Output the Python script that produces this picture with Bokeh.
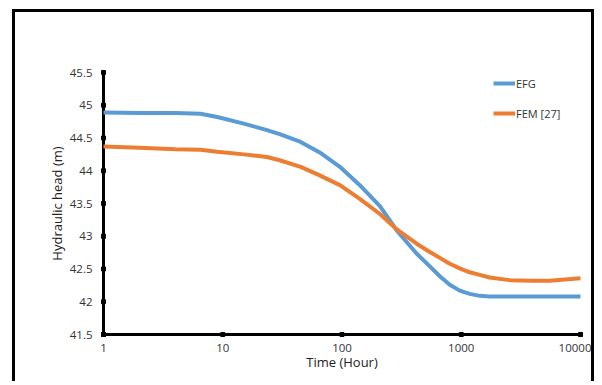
from bokeh.plotting import figure
from bokeh.models import FixedTicker, Legend, LegendItem
from bokeh.embed import file_html
from bokeh.resources import INLINE

time_hours = [1, 2, 4, 6.5, 9, 15, 23.5, 30, 45, 65, 96, 141, 208, 290, 420, 545, 661, 801, 971, 1178, 1428, 1730, 2545, 4000, 5500, 10000]
efg_head = [44.89, 44.88, 44.88, 44.87, 44.82, 44.72, 44.62, 44.56, 44.44, 44.28, 44.06, 43.78, 43.46, 43.08, 42.74, 42.54, 42.39, 42.26, 42.17, 42.12, 42.09, 42.08, 42.08, 42.08, 42.08, 42.08]
fem_head = [44.37, 44.35, 44.33, 44.32, 44.29, 44.25, 44.21, 44.16, 44.06, 43.93, 43.78, 43.57, 43.34, 43.10, 42.89, 42.76, 42.67, 42.58, 42.51, 42.45, 42.41, 42.37, 42.33, 42.32, 42.32, 42.36]
x_ticks = [1, 10, 100, 1000, 10000]
y_ticks = [41.5, 42, 42.5, 43, 43.5, 44, 44.5, 45, 45.5]
series_names = ["EFG", "FEM [27]"]
series_colors = ["#5b9bd5", "#ed7d31"]

FONT = "Open Sans"
PAD_X = 3 / 119.25   # decades of padding so the axis lines sit inside the frame
PAD_Y = 3 / 65.5

p = figure(width=582, height=372, x_axis_type="log",
           x_range=(10 ** (0 - PAD_X), 10 ** (4 + PAD_X)),
           y_range=(y_ticks[0] - PAD_Y, y_ticks[-1] + PAD_Y),
           output_backend="svg", toolbar_location=None,
           min_border_left=85, min_border_right=14, min_border_top=57, min_border_bottom=47)
p.outline_line_color = None
p.xgrid.grid_line_color = None
p.ygrid.grid_line_color = None
p.styles = {"border-top": "3px solid black", "border-left": "3px solid black",
            "border-right": "3px solid black", "margin-left": "12px", "margin-top": "9px"}

# axis lines and tick dots
p.segment(x0=[x_ticks[0]], y0=[y_ticks[0]], x1=[x_ticks[-1]], y1=[y_ticks[0]],
          line_color="black", line_width=3, line_cap="square")
p.segment(x0=[x_ticks[0]], y0=[y_ticks[0]], x1=[x_ticks[0]], y1=[y_ticks[-1]],
          line_color="black", line_width=3, line_cap="square")
p.scatter(x_ticks, [y_ticks[0]] * len(x_ticks), marker="square", size=4, color="black")
p.scatter([x_ticks[0]] * len(y_ticks), y_ticks, marker="square", size=4, color="black")

r1 = p.line(time_hours, efg_head, line_color=series_colors[0], line_width=4)
r2 = p.line(time_hours, fem_head, line_color=series_colors[1], line_width=4)

p.axis.axis_line_color = None
p.axis.major_tick_line_color = None
p.axis.minor_tick_line_color = None
p.axis.major_tick_in = 0
p.axis.major_tick_out = 0
p.axis.major_label_text_font = FONT
p.axis.major_label_text_font_size = "11.5px"
p.axis.major_label_text_color = "#333333"
p.axis.axis_label_text_font = FONT
p.axis.axis_label_text_font_size = "13px"
p.axis.axis_label_text_font_style = "normal"
p.axis.axis_label_text_color = "#222222"

p.xaxis.ticker = FixedTicker(ticks=x_ticks)
p.xaxis.major_label_overrides = {t: str(t) for t in x_ticks}
p.xaxis.major_label_standoff = 6
p.xaxis.axis_label = "Time (Hour)"
p.xaxis.axis_label_standoff = -2

p.yaxis.ticker = FixedTicker(ticks=y_ticks)
p.yaxis.major_label_overrides = {t: (str(int(t)) if t == int(t) else str(t)) for t in y_ticks}
p.yaxis.major_label_standoff = 8
p.yaxis.axis_label = "Hydraulic head (m)"
p.yaxis.axis_label_standoff = 1

legend = Legend(items=[LegendItem(label=series_names[0], renderers=[r1]),
                       LegendItem(label=series_names[1], renderers=[r2])],
                location=(393, 214), orientation="vertical")
legend.border_line_color = None
legend.background_fill_alpha = 0
legend.padding = 0
legend.margin = 0
legend.spacing = 10
legend.glyph_width = 22
legend.glyph_height = 20
legend.label_standoff = 1
legend.label_text_font = FONT
legend.label_text_font_size = "11px"
legend.label_text_color = "#333333"
p.add_layout(legend, "center")

open("out.html", "w").write(file_html(p, INLINE))
